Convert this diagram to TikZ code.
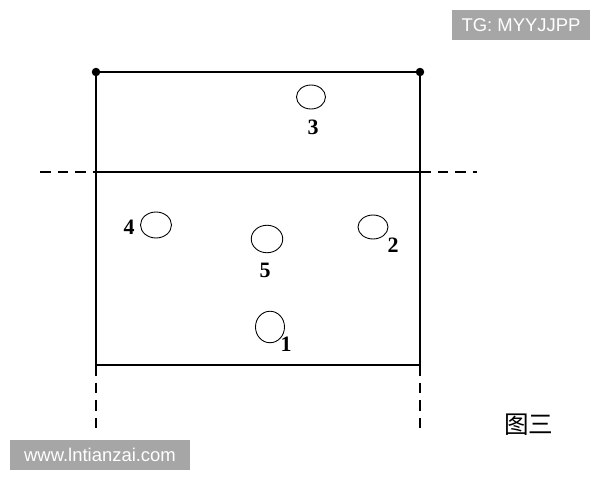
\documentclass[tikz,border=0pt]{standalone}
\usepackage{fontspec}
\setmainfont{Liberation Serif}
\newfontfamily\cjkfont{Noto Sans CJK SC}
\newfontfamily\wmfont{Liberation Sans}
\usetikzlibrary{shapes.geometric}
\definecolor{wmgray}{RGB}{166,166,166}
\begin{document}
\begin{tikzpicture}
    [
    x=0.02cm, y=-0.02cm,
    frame/.style={line width=1pt},
    ext/.style={line width=1pt, dash pattern=on 6pt off 4pt},
    dot/.style={circle,fill,inner sep=0pt,minimum size=1.7mm},
    hole/.style={ellipse,draw,line width=0.5pt,inner sep=0pt,minimum width=0.6cm,minimum height=0.5cm},
    num/.style={inner sep=0pt,font=\fontsize{12.5}{14}\selectfont\bfseries},
    stamp/.style={fill=wmgray,text=white,inner sep=0pt,minimum height=0.6cm,font=\wmfont\fontsize{10.5}{12}\selectfont}
    ]
    \useasboundingbox (0,0) rectangle (600,480);
    % frame corners
    \coordinate (tl) at (96,72);
    \coordinate (tr) at (420,72);
    \coordinate (ml) at (96,172);
    \coordinate (mr) at (420,172);
    \coordinate (bl) at (96,365);
    \coordinate (br) at (420,365);
    \coordinate (el) at (40,172);
    \coordinate (er) at (477,172);
    \coordinate (dl) at (96,433);
    \coordinate (dr) at (420,430);
    \draw [frame] (tl) -- (tr) -- (br) -- (bl) -- cycle;
    \draw [frame] (ml) -- (mr);
    \draw [ext] (el) -- (ml);
    \draw [ext] (mr) -- (er);
    \draw [ext] (bl) -- (dl);
    \draw [ext] (br) -- (dr);
    \node (dotl) at (tl) [dot] {};
    \node (dotr) at (tr) [dot] {};
    % holes
    \node (h3) at (311,97) [hole, minimum width=0.58cm, minimum height=0.48cm] {};
    \node (h4) at (156,225) [hole, minimum width=0.62cm, minimum height=0.52cm] {};
    \node (h5) at (267,239) [hole, minimum width=0.63cm, minimum height=0.55cm] {};
    \node (h2) at (373,227) [hole, minimum width=0.6cm, minimum height=0.48cm] {};
    \node (h1) at (270,327) [hole, minimum width=0.58cm, minimum height=0.63cm] {};
    \node (n3) at (313,127) [num] {3};
    \node (n4) at (129,227) [num] {4};
    \node (n5) at (265,270) [num] {5};
    \node (n2) at (393,245) [num] {2};
    \node (n1) at (286,344) [num] {1};
    \node (title) at (529,425) [font=\cjkfont\fontsize{14}{16}\selectfont] {图三};
    % watermarks
    \node (tg) at (521,25) [stamp, minimum width=2.76cm] {TG: MYYJJPP};
    \node (www) at (100,455) [stamp, minimum width=3.62cm] {www.lntianzai.com};
  \end{tikzpicture}
\end{document}
